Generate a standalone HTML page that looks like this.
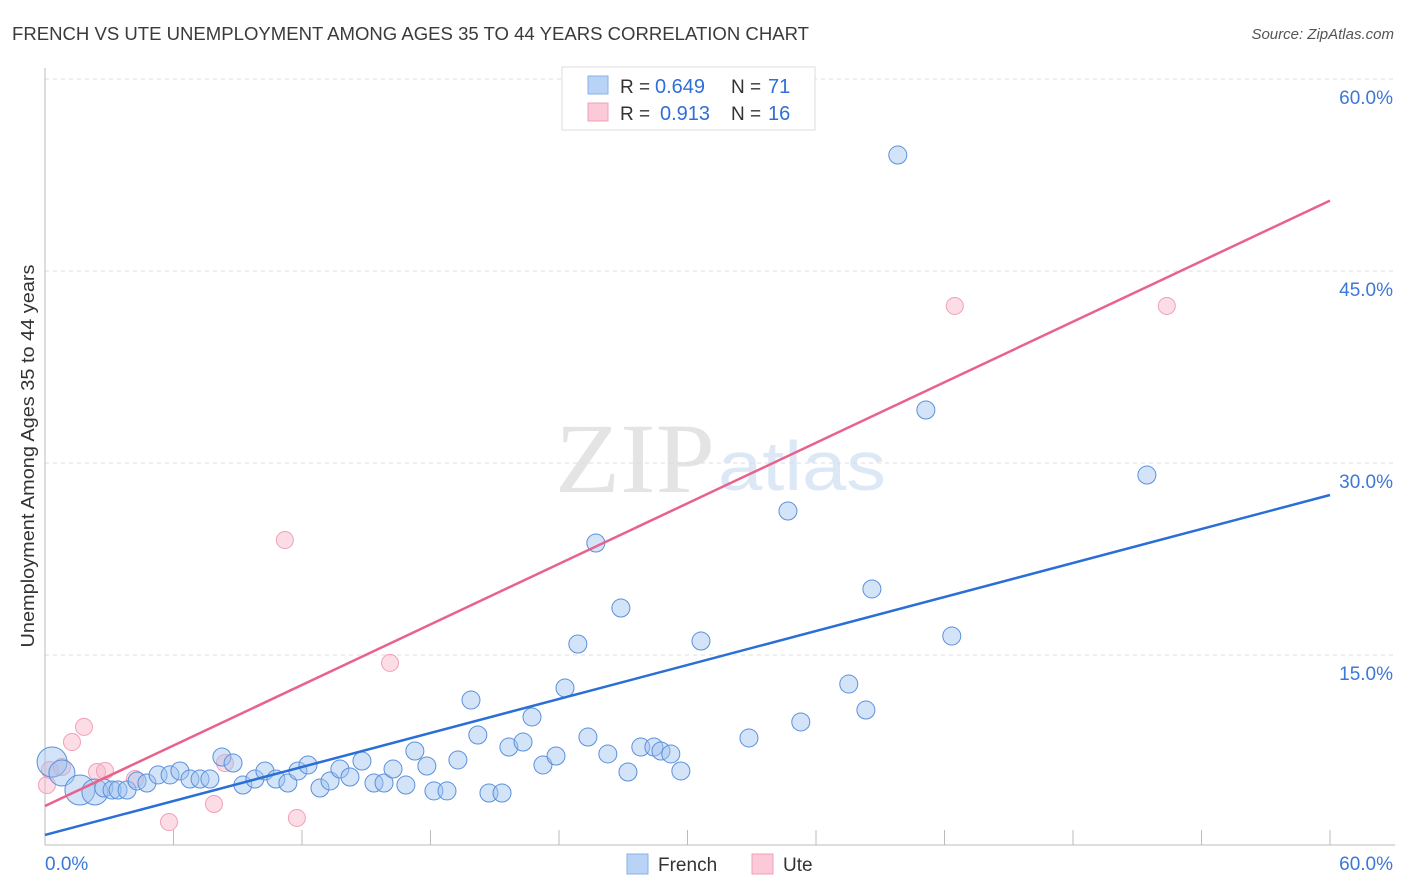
<!DOCTYPE html>
<html><head><meta charset="utf-8"><style>
body{margin:0;background:#fff;font-family:"Liberation Sans",sans-serif}
svg{display:block}
</style></head><body>
<svg id="chart" width="1406" height="892">
<text x="12" y="40" font-size="18" fill="#3a3a3a" textLength="797" lengthAdjust="spacingAndGlyphs">FRENCH VS UTE UNEMPLOYMENT AMONG AGES 35 TO 44 YEARS CORRELATION CHART</text>
<text x="1394" y="39" font-size="15" fill="#555" font-style="italic" text-anchor="end">Source: ZipAtlas.com</text>
<text x="555" y="492" font-size="100" fill="#e4e4e4" textLength="160" lengthAdjust="spacingAndGlyphs" font-family="Liberation Serif">ZIP</text>
<text x="718" y="490" font-size="70" fill="#dce8f6" textLength="168" lengthAdjust="spacingAndGlyphs">atlas</text>
<text transform="translate(34,456) rotate(-90)" font-size="18" fill="#333" text-anchor="middle" textLength="383" lengthAdjust="spacingAndGlyphs">Unemployment Among Ages 35 to 44 years</text>
<g id="grid"></g><g id="pts"></g><g id="lines"></g>
<g>
<rect x="562" y="67" width="253" height="63" fill="#fff" stroke="#ddd"/>
<rect x="588" y="76" width="20" height="18" fill="#b8d3f5" stroke="#8ab0e6"/>
<rect x="588" y="103" width="20" height="18" fill="#fbc9d8" stroke="#f0a0b8"/>
<text x="620" y="93" font-size="19" fill="#333">R =</text><text x="655" y="93" font-size="20" fill="#2f6fd6">0.649</text>
<text x="731" y="93" font-size="19" fill="#333">N =</text><text x="768" y="93" font-size="20" fill="#2f6fd6">71</text>
<text x="620" y="120" font-size="19" fill="#333">R =</text><text x="660" y="120" font-size="20" fill="#2f6fd6">0.913</text>
<text x="731" y="120" font-size="19" fill="#333">N =</text><text x="768" y="120" font-size="20" fill="#2f6fd6">16</text>
</g>
<g>
<rect x="627" y="854" width="21" height="20" fill="#b8d3f5" stroke="#8ab0e6"/>
<text x="658" y="871" font-size="19" fill="#333">French</text>
<rect x="752" y="854" width="21" height="20" fill="#fbc9d8" stroke="#f0a0b8"/>
<text x="783" y="871" font-size="19" fill="#333">Ute</text>
</g>
</svg>
<script>
const yTicks=[15,30,45,60];
const yTickLabels=["15.0%","30.0%","45.0%","60.0%"];
const frenchX=[0.33,0.79,1.63,2.33,2.75,3.13,3.41,3.83,4.30,4.76,5.28,5.84,6.30,6.77,7.24,7.70,8.26,8.78,9.24,9.80,10.27,10.78,11.34,11.81,12.28,12.84,13.31,13.77,14.24,14.80,15.36,15.83,16.25,16.85,17.27,17.83,18.16,18.77,19.28,19.89,20.21,20.73,21.34,21.66,22.32,22.74,23.25,23.86,24.28,24.88,25.35,25.72,26.28,26.89,27.22,27.82,28.43,28.76,29.22,29.69,30.63,32.87,34.69,35.29,37.53,38.33,38.61,39.82,41.13,42.34,51.45];
const frenchY=[6.64,5.78,4.45,4.30,4.61,4.45,4.45,4.45,5.16,5.0,5.63,5.63,5.94,5.31,5.31,5.31,7.03,6.56,4.84,5.31,5.94,5.31,5.0,5.94,6.41,4.61,5.16,6.09,5.47,6.72,5.0,5.0,6.09,4.84,7.5,6.33,4.38,4.38,6.80,11.48,8.75,4.22,4.22,7.81,8.20,10.16,6.41,7.11,12.42,15.86,8.59,23.75,7.27,18.67,5.86,7.81,7.81,7.5,7.27,5.94,16.09,8.52,26.25,9.77,12.73,10.70,20.16,54.06,34.14,16.48,29.06];
const frenchSize=[15,13,15,13,9,9,9,9,9,9,9,9,9,9,9,9,9,9,9,9,9,9,9,9,9,9,9,9,9,9,9,9,9,9,9,9,9,9,9,9,9,9,9,9,9,9,9,9,9,9,9,9,9,9,9,9,9,9,9,9,9,9,9,9,9,9,9,9,9,9,9];
const uteX=[0.09,0.23,0.79,1.26,1.82,2.43,2.80,4.20,5.79,7.89,8.40,11.20,11.76,16.11,42.48,52.38];
const uteY=[4.84,6.02,6.25,8.20,9.38,5.86,5.94,5.31,1.95,3.36,6.56,23.98,2.27,14.38,42.27,42.27];
const frenchLine=[0.94,27.5];
const uteLine=[3.2,50.5];
const X0=45,X1=1330,Y0=847,PY=12.8;
const sx=v=>X0+(X1-X0)*v/60, sy=v=>Y0-v*PY;
const NS="http://www.w3.org/2000/svg";
function mk(t,a,p){const e=document.createElementNS(NS,t);for(const k in a)e.setAttribute(k,a[k]);p.appendChild(e);return e;}
const grid=document.getElementById('grid');
yTicks.forEach((t,i)=>{
 const l=mk('line',{x1:X0,x2:1395,y1:sy(t),y2:sy(t),stroke:'#ddd','stroke-dasharray':'4,4'},grid);
 
 
 const tx=mk('text',{x:1393,y:sy(t)+25,'font-size':19,fill:'#3b78d8','text-anchor':'end'},grid);
 tx.textContent=yTickLabels[i];
 
 
});
const ax=mk('line',{x1:X0,x2:X0,y1:68,y2:845,stroke:'#bbb'},grid);


const bx=mk('line',{x1:X0,x2:1395,y1:845,y2:845,stroke:'#bbb'},grid);


for(let i=1;i<=10;i++){const t=mk('line',{x1:sx(i*6),x2:sx(i*6),y1:830,y2:845,stroke:'#bbb'},grid);
 
 }
[["0.0%",X0,'start'],["60.0%",1393,'end']].forEach(d=>{const t=mk('text',{x:d[1],y:870,'font-size':19,fill:'#3b78d8','text-anchor':d[2]},grid);t.textContent=d[0];
 
 });
const pts=document.getElementById('pts');
uteX.forEach((x,i)=>{const c=mk('circle',{cx:sx(x),cy:sy(uteY[i]),r:8.5,fill:'rgba(248,180,200,0.45)',stroke:'#f0a0b8','stroke-width':1},pts);
 
 });
frenchX.forEach((x,i)=>{const c=mk('circle',{cx:sx(x),cy:sy(frenchY[i]),r:frenchSize[i],fill:'rgba(160,195,240,0.45)',stroke:'#5a90dc','stroke-width':1},pts);
 
 });
const lines=document.getElementById('lines');
const fl=mk('line',{x1:sx(0),y1:sy(frenchLine[0]),x2:sx(60),y2:sy(frenchLine[1]),stroke:'#2a6fd6','stroke-width':2.5},lines);


const ul=mk('line',{x1:sx(0),y1:sy(uteLine[0]),x2:sx(60),y2:sy(uteLine[1]),stroke:'#e8628c','stroke-width':2.5},lines);


</script>
</body></html>
